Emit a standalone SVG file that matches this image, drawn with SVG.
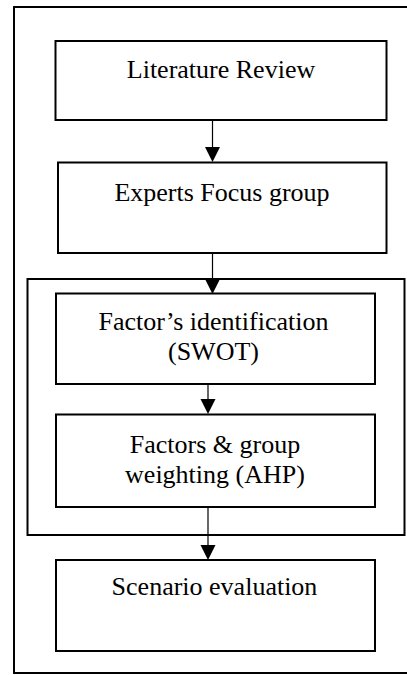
<svg xmlns="http://www.w3.org/2000/svg" width="407" height="675" viewBox="0 0 407 675">
<defs>
<style>
.frame{fill:none;stroke:#000;stroke-width:2}
.box{fill:#fff;stroke:#000;stroke-width:2}
.conn{stroke:#000;stroke-width:1.2;fill:none}
.head{fill:#000}
</style>
</defs>
<rect width="407" height="675" fill="#fff"/>
<g id="outer-frame"><rect class="frame" x="14" y="7" width="400" height="666"/></g>
<g id="inner-frame"><rect class="frame" x="27.5" y="279" width="377" height="256"/></g>
<g id="connectors">
<line class="conn" x1="212.5" y1="121" x2="212.5" y2="148"/>
<polygon class="head" points="205,147 220,147 212.5,162"/>
<line class="conn" x1="212.5" y1="254" x2="212.5" y2="280"/>
<polygon class="head" points="205,279 220,279 212.5,294"/>
<line class="conn" x1="208" y1="385" x2="208" y2="400"/>
<polygon class="head" points="200.5,399 215.5,399 208,414"/>
<line class="conn" x1="208" y1="508" x2="208" y2="546"/>
<polygon class="head" points="200.5,545 215.5,545 208,560"/>
</g>
<g font-family="'Liberation Serif', 'Times New Roman', serif" font-size="26" fill="#000" text-anchor="middle">
<g id="literature-review"><rect class="box" x="55.5" y="41" width="331" height="79"/><text x="221" y="78">Literature Review</text></g>
<g id="experts-focus-group"><rect class="box" x="58" y="162.5" width="328.5" height="90.5"/><text x="222" y="201">Experts Focus group</text></g>
<g id="factors-identification"><rect class="box" x="56" y="293.5" width="319" height="90.5"/><text x="213.5" y="330">Factor’s identification</text><text x="213.5" y="360">(SWOT)</text></g>
<g id="factors-weighting"><rect class="box" x="56" y="414.5" width="319" height="92.5"/><text x="215" y="453">Factors &amp; group</text><text x="215" y="483">weighting (AHP)</text></g>
<g id="scenario-evaluation"><rect class="box" x="56" y="560" width="319" height="91"/><text x="214.5" y="595">Scenario evaluation</text></g>
</g>
</svg>
